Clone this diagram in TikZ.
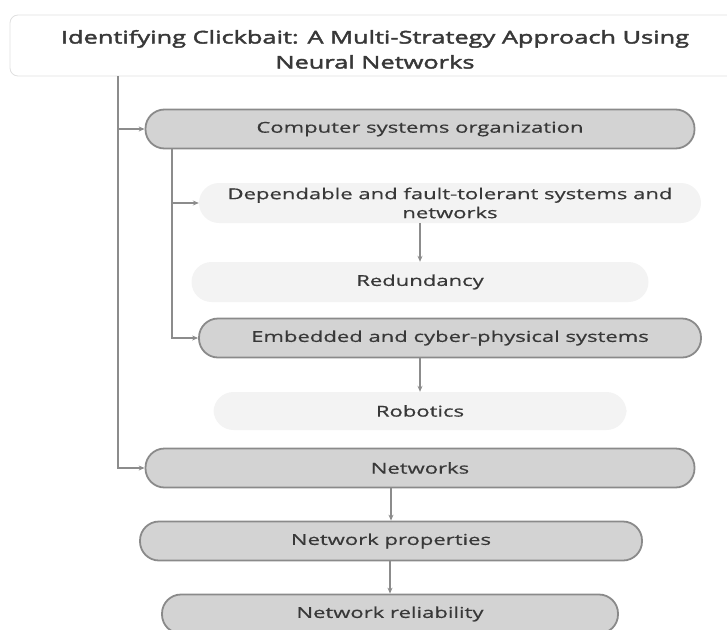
\documentclass[tikz,border=0pt]{standalone}
\usepackage{fontspec}
\setmainfont{Open Sans}[FakeStretch=1.47, FakeBold=0.6]
\newfontfamily\headfont{Open Sans}[FakeStretch=1.45, FakeBold=2.4]
\usetikzlibrary{arrows.meta}

\definecolor{pillfill}{HTML}{D3D3D3}
\definecolor{pillline}{HTML}{8A8A8A}
\definecolor{softfill}{HTML}{F3F3F3}
\definecolor{linkgray}{HTML}{8C8C8C}
\definecolor{inkgray}{HTML}{383838}

\begin{document}
\begin{tikzpicture}[x=1pt,y=-1pt,
    label font/.style={text=inkgray, font=\fontsize{15}{19}\selectfont},
    pill/.style={label font, draw=pillline, line width=1.8pt, fill=pillfill,
        rounded corners=19pt, minimum height=39pt, inner sep=0pt},
    soft/.style={label font, fill=softfill, rounded corners=20pt,
        minimum height=40pt, inner sep=0pt, align=center},
    link/.style={draw=linkgray, line width=1.2pt,
        -{Stealth[length=6pt,width=5pt]}}]
    \useasboundingbox (0,0) rectangle (727,629);

    % Title box (runs off the right edge)
    \node[draw=black!12, line width=0.8pt, fill=white, rounded corners=8pt,
        minimum width=730pt, minimum height=61pt, align=center,
        text height=46pt, text depth=0pt, inner sep=0pt,
        text=inkgray, font=\headfont\fontsize{17.5}{25}\selectfont] (title) at (375,45.5)
        {Identifying Clickbait: A Multi-Strategy Approach Using\\Neural Networks};

    % First level
    \node[pill, minimum width=549pt] (cso) at (420,129) {Computer systems organization};
    \node[pill, minimum width=549pt] (net) at (420,468) {Networks};

    % Under computer systems organization
    \node[soft, minimum width=502pt] (dep) at (450,203)
        {Dependable and fault-tolerant systems and\\networks};
    \node[soft, minimum width=457pt] (red) at (420,282) {Redundancy};
    \node[pill, minimum width=502pt] (emb) at (450,338) {Embedded and cyber-physical systems};
    \node[soft, minimum width=413pt, minimum height=38pt] (rob) at (420,411) {Robotics};

    % Under networks
    \node[pill, minimum width=502pt] (prop) at (391,541) {Network properties};
    \node[pill, minimum width=456pt] (rel) at (390,614) {Network reliability};

    % Trunk lines
    \coordinate (trunk) at (118,76);
    \coordinate (branch) at (172,149);
    \draw[link] (trunk) |- (cso.west);
    \draw[link] (trunk) |- (net.west);
    \draw[link] (branch) |- (dep.west);
    \draw[link] (branch) |- (emb.west);

    % Straight drops
    \draw[link] (red.north |- dep.south) -- (red.north);
    \draw[link] (rob.north |- emb.south) -- (rob.north);
    \draw[link] (prop.north |- net.south) -- (prop.north);
    \draw[link] (rel.north |- prop.south) -- (rel.north);
\end{tikzpicture}
\end{document}
